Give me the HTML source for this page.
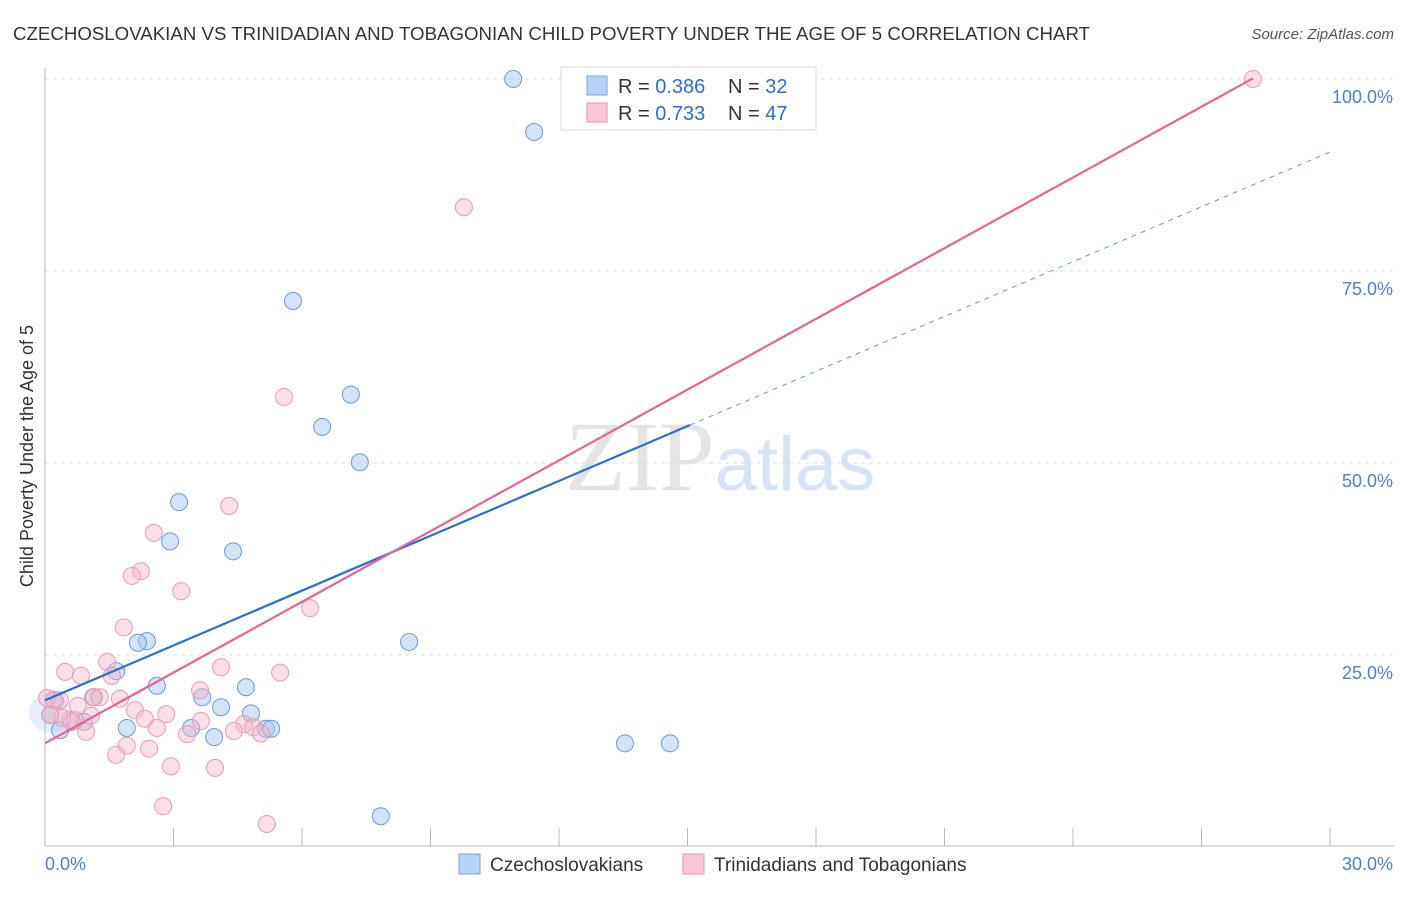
<!DOCTYPE html>
<html><head><meta charset="utf-8"><style>
body{margin:0;background:#fff;font-family:"Liberation Sans",sans-serif;}
</style></head><body>
<svg id="chart" width="1406" height="892" xmlns="http://www.w3.org/2000/svg" style="font-family:'Liberation Sans',sans-serif">
<text x="13" y="40" font-size="18" fill="#333" textLength="1077" lengthAdjust="spacingAndGlyphs">CZECHOSLOVAKIAN VS TRINIDADIAN AND TOBAGONIAN CHILD POVERTY UNDER THE AGE OF 5 CORRELATION CHART</text>
<text x="1394" y="39" font-size="15" fill="#555" text-anchor="end" font-style="italic">Source: ZipAtlas.com</text>
<text transform="translate(33,456) rotate(-90)" font-size="18" fill="#333" text-anchor="middle">Child Poverty Under the Age of 5</text>
<text x="720" y="490" font-size="100" fill="#e4e4e4" text-anchor="middle" font-family="'Liberation Serif',serif">ZIP<tspan fill="#d6e3f5" font-family="'Liberation Sans',sans-serif" font-size="76">atlas</tspan></text>
<g id="grid"></g><g id="marks"></g><g id="lines"></g>
<g>
<rect x="561" y="67" width="255" height="63" fill="#fff" stroke="#ddd"/>
<rect x="587" y="76" width="20" height="19" fill="#b9d3f5" stroke="#7aa6e0"/>
<rect x="587" y="103" width="20" height="19" fill="#f8c6d5" stroke="#e994b0"/>
<text x="618" y="93" font-size="20" fill="#333">R = <tspan fill="#2a6fd6">0.386</tspan></text>
<text x="728" y="93" font-size="20" fill="#333">N = <tspan fill="#2a6fd6">32</tspan></text>
<text x="618" y="120" font-size="20" fill="#333">R = <tspan fill="#2a6fd6">0.733</tspan></text>
<text x="728" y="120" font-size="20" fill="#333">N = <tspan fill="#2a6fd6">47</tspan></text>
</g>
<g>
<rect x="459" y="854" width="21" height="20" fill="#b9d3f5" stroke="#7aa6e0"/>
<text x="490" y="871" font-size="19" fill="#333">Czechoslovakians</text>
<rect x="683" y="854" width="21" height="20" fill="#f8c6d5" stroke="#e994b0"/>
<text x="714" y="871" font-size="19" fill="#333">Trinidadians and Tobagonians</text>
</g>
</svg>
<script>
const blueX=[10.93,11.42,5.79,7.14,6.47,7.35,3.13,2.92,4.39,2.38,2.17,8.50,1.66,2.61,4.69,1.14,3.67,4.11,4.81,1.91,3.41,3.95,5.16,5.28,0.35,0.91,0.63,13.54,14.59,7.84,0.12,0.23];
const blueY=[100,93.1,71.1,58.9,54.7,50.1,44.9,39.8,38.5,26.8,26.6,26.7,22.9,21.0,20.8,19.5,19.5,18.2,17.4,15.5,15.5,14.3,15.4,15.4,15.2,16.3,16.3,13.5,13.5,4.0,17.2,19.1];
const pinkX=[28.2,9.78,5.58,4.30,2.54,2.24,2.03,3.18,6.19,1.84,1.45,4.11,0.47,0.84,5.49,1.56,1.12,1.28,1.75,2.10,0.77,1.07,2.83,2.33,3.64,3.32,2.61,4.65,4.86,5.04,4.41,1.91,2.43,0.96,1.66,2.94,3.97,2.76,5.18,0.19,0.05,0.35,0.58,3.62,0.70,0.40,0.12];
const pinkY=[100,83.3,58.6,44.4,40.9,35.9,35.3,33.3,31.1,28.6,24.1,23.4,22.8,22.3,22.7,22.3,19.5,19.5,19.3,17.8,18.4,17.1,17.3,16.7,16.4,14.7,15.5,16.0,15.6,14.8,15.1,13.2,12.8,15.0,12.0,10.5,10.3,5.3,3.0,19.1,19.4,19.1,16.5,20.4,16.5,16.8,17.2];
const blueTrend=[19.1,2.38];
const pinkTrend=[13.5,3.07];
const yTicks=[25,50,75,100];
const yTickLabels=["25.0%","50.0%","75.0%","100.0%"];
const NS="http://www.w3.org/2000/svg";
const X=v=>45+v*42.833, Y=v=>847-v*7.68;
function mk(t,a,p){const e=document.createElementNS(NS,t);for(const k in a)e.setAttribute(k,a[k]);p.appendChild(e);return e;}
const grid=document.getElementById('grid'),marks=document.getElementById('marks'),lines=document.getElementById('lines');
yTicks.forEach((t,i)=>{
 const l=mk('line',{x1:45,x2:1394,y1:Y(t),y2:Y(t),stroke:'#ddd','stroke-dasharray':'4,4'},grid);
 
 
 const tx=mk('text',{x:1393,y:Y(t)+24,'font-size':18,fill:'#4a7fd6','text-anchor':'end'},grid);
 tx.textContent=yTickLabels[i];
 
 
});
mk('line',{x1:45,x2:45,y1:68,y2:846,stroke:'#bbb'},grid);
mk('line',{x1:45,x2:1394,y1:846,y2:846,stroke:'#bbb'},grid);
for(let i=1;i<=10;i++){const tk=mk('line',{x1:X(i*3),x2:X(i*3),y1:828,y2:846,stroke:'#bbb'},grid);
 
 }
const a=mk('text',{x:45,y:870,'font-size':18,fill:'#4a7fd6'},grid);a.textContent='0.0%';


const b=mk('text',{x:1393,y:870,'font-size':18,fill:'#4a7fd6','text-anchor':'end'},grid);b.textContent='30.0%';


const big=mk('circle',{cx:X(0.1),cy:Y(17.5),r:20,fill:'rgba(169,200,240,0.3)'},marks);


blueX.forEach((v,i)=>{const c=mk('circle',{cx:X(v),cy:Y(blueY[i]),r:8.5,fill:'rgba(169,200,240,0.5)',stroke:'#6a9ade','stroke-width':1},marks);
 
 });
pinkX.forEach((v,i)=>{const c=mk('circle',{cx:X(v),cy:Y(pinkY[i]),r:8.5,fill:'rgba(245,184,200,0.45)',stroke:'#eb9ab3','stroke-width':1},marks);
 
 });
const bl=mk('line',{x1:X(0),y1:Y(blueTrend[0]),x2:X(15.06),y2:Y(blueTrend[0]+blueTrend[1]*15.06),stroke:'#2a6fd6','stroke-width':2.2},lines);


const bd=mk('line',{x1:X(15.06),y1:Y(blueTrend[0]+blueTrend[1]*15.06),x2:X(30),y2:Y(blueTrend[0]+blueTrend[1]*30),stroke:'#6b9be0','stroke-width':1,'stroke-dasharray':'5,5'},lines);


const pl=mk('line',{x1:X(0),y1:Y(pinkTrend[0]),x2:X(28.2),y2:Y(pinkTrend[0]+pinkTrend[1]*28.2),stroke:'#e8648f','stroke-width':2.2},lines);


</script>
</body></html>
